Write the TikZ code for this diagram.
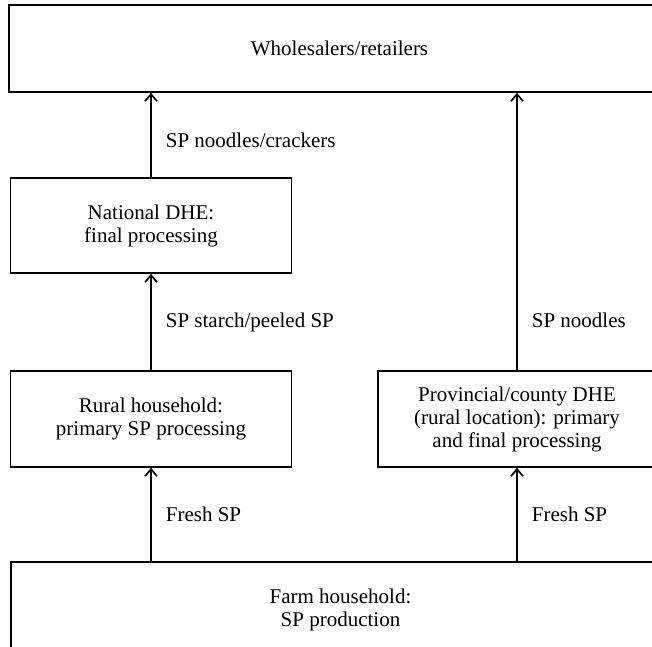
\documentclass[tikz,border=0pt]{standalone}
\usepackage{fontspec}
\setmainfont{Liberation Serif}
\usetikzlibrary{arrows.meta}
\begin{document}
\begin{tikzpicture}[x=1pt,y=-1pt, font=\fontsize{21}{23}\selectfont,
  box/.style={draw, line width=1.7pt, align=center, inner sep=0pt},
  arr/.style={-{Straight Barb[length=7pt,width=12pt]}, line width=1.7pt},
  lab/.style={anchor=west, inner sep=0pt, xshift=14pt}]
\useasboundingbox (0,0) rectangle (652,646);
\clip (0,0) rectangle (652,646);
\node[box, minimum width=661pt, minimum height=87pt] (ws) at (339.5,48.5) {Wholesalers/retailers};
\node[box, minimum width=281pt, minimum height=95pt] (national) at (151,225.5) {National DHE:\\final processing};
\node[box, minimum width=281pt, minimum height=96pt] (rural) at (151,419) {Rural household:\\primary SP processing};
\node[box, minimum width=278pt, minimum height=96pt] (prov) at (517,419) {Provincial/county DHE\\(rural location): primary\\and final processing};
\node[box, minimum width=659pt, minimum height=96pt] (farm) at (340.5,610) {Farm household:\\SP production};
\draw[arr] (rural.south |- farm.north) -- node[lab]{Fresh SP} (rural.south);
\draw[arr] (rural.north) -- node[lab]{SP starch/peeled SP} (national.south);
\draw[arr] (national.north) -- node[lab, pos=0.44]{SP noodles/crackers} (national.north |- ws.south);
\draw[arr] (prov.south |- farm.north) -- node[lab]{Fresh SP} (prov.south);
\draw[arr] (prov.north) -- node[lab, pos=0.18]{SP noodles} (prov.north |- ws.south);
\end{tikzpicture}
\end{document}
